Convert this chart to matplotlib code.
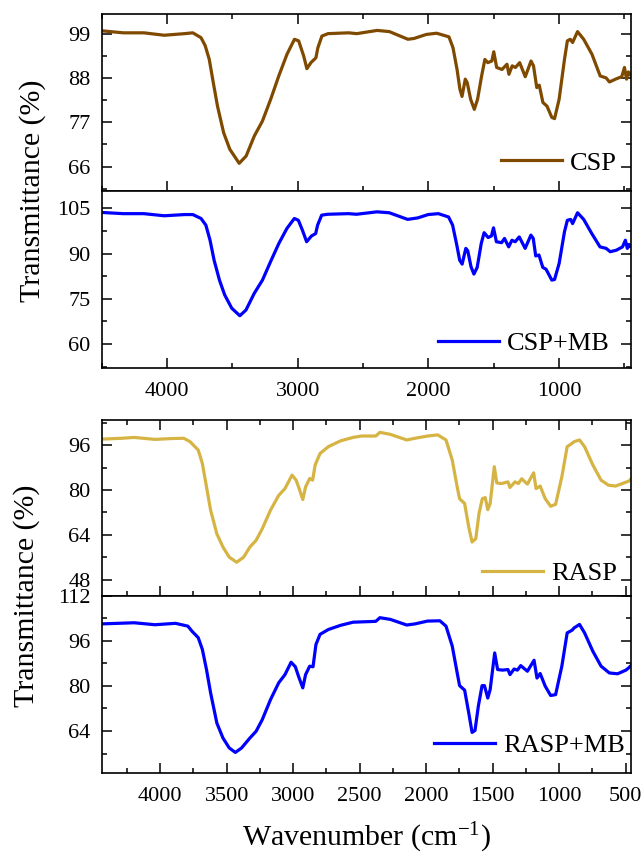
import matplotlib
matplotlib.use("Agg")
import matplotlib.pyplot as plt
from matplotlib.ticker import MultipleLocator

plt.rcParams['font.family'] = ['Liberation Serif', 'DejaVu Serif']
plt.rcParams['mathtext.fontset'] = 'custom'
plt.rcParams['mathtext.rm'] = 'Liberation Serif'
plt.rcParams['mathtext.it'] = 'Liberation Serif:italic'

# ---------------- data ----------------
csp_w = [4500, 4335, 4178, 4022, 3865, 3803, 3740, 3708, 3677, 3646, 3614, 3567, 3520, 3448, 3395,
         3332, 3270, 3207, 3145, 3082, 3025, 2993, 2955, 2930, 2899, 2861, 2846, 2815, 2768, 2611,
         2548, 2392, 2298, 2157, 2110, 2016, 1937, 1843, 1812, 1781, 1759, 1743, 1718, 1703, 1677,
         1649, 1624, 1593, 1568, 1546, 1515, 1500, 1478, 1437, 1399, 1384, 1359, 1334, 1302, 1259,
         1215, 1196, 1171, 1152, 1124, 1093, 1056, 1035, 1000, 959, 937, 915, 897, 859, 812,
         749, 686, 640, 615, 561, 521, 500, 484, 470, 455]
csp_t = [99.7, 99.2, 99.2, 98.6, 99.0, 99.2, 98.0, 96.0, 92.6, 86.8, 81.0, 74.4, 70.3, 66.8, 68.6,
         73.6, 77.3, 82.7, 88.5, 93.9, 97.6, 97.2, 93.5, 90.3, 91.8, 93.0, 95.5, 98.4, 99.0, 99.2,
         99.0, 99.8, 99.5, 97.6, 97.8, 98.8, 99.1, 98.2, 95.5, 90.1, 85.2, 83.4, 87.7, 86.8, 82.7,
         80.2, 82.7, 88.5, 92.6, 91.8, 92.2, 94.5, 90.6, 90.1, 91.4, 88.9, 91.0, 90.6, 91.8, 88.3,
         92.2, 91.0, 85.6, 86.2, 81.9, 81.0, 78.2, 77.9, 82.7, 92.6, 97.2, 97.6, 96.8, 99.5, 97.6,
         93.9, 88.5, 88.0, 87.0, 87.8, 88.3, 90.6, 87.7, 89.5, 88.8]

cspmb_w = [4500, 4335, 4178, 4022, 3865, 3803, 3740, 3703, 3671, 3640, 3599, 3559, 3505, 3443, 3396,
           3333, 3270, 3208, 3145, 3083, 3026, 2995, 2964, 2932, 2895, 2863, 2848, 2817, 2770, 2613,
           2550, 2394, 2300, 2159, 2081, 2002, 1924, 1846, 1815, 1783, 1761, 1742, 1714, 1699, 1674,
           1652, 1627, 1596, 1574, 1543, 1518, 1502, 1480, 1440, 1418, 1386, 1361, 1336, 1305, 1260,
           1216, 1198, 1179, 1154, 1125, 1100, 1056, 1035, 1000, 959, 937, 912, 897, 859, 812,
           750, 687, 640, 609, 562, 515, 493, 478, 465, 455]
cspmb_t = [103.6, 103.2, 103.2, 102.5, 102.9, 102.9, 101.6, 99.4, 94.4, 87.8, 81.2, 76.3, 71.9, 69.4, 71.3,
           76.8, 81.2, 87.3, 93.3, 98.3, 101.6, 101.0, 97.7, 93.9, 95.8, 96.6, 99.4, 102.7, 103.0, 103.2,
           103.0, 103.8, 103.5, 101.3, 101.8, 102.9, 103.2, 102.1, 99.4, 92.8, 87.8, 86.5, 91.7, 90.9, 85.6,
           83.2, 85.4, 93.3, 96.9, 95.3, 95.8, 98.5, 93.9, 93.6, 95.0, 92.2, 94.4, 93.9, 95.5, 91.7,
           96.1, 95.0, 89.2, 89.5, 85.4, 84.8, 81.2, 81.4, 86.7, 97.2, 101.0, 101.3, 99.9, 103.5, 101.3,
           96.6, 92.2, 91.7, 90.6, 91.1, 92.2, 94.4, 91.7, 93.0, 92.4]

rasp_w = [4440, 4289, 4196, 4040, 3916, 3823, 3776, 3714, 3683, 3652, 3621, 3574, 3528, 3481, 3425,
          3373, 3326, 3279, 3233, 3171, 3109, 3062, 3009, 2978, 2953, 2928, 2907, 2876, 2854, 2835,
          2798, 2736, 2643, 2550, 2487, 2379, 2348, 2270, 2146, 2084, 1990, 1913, 1851, 1804, 1767,
          1749, 1711, 1680, 1655, 1627, 1603, 1578, 1556, 1537, 1519, 1488, 1469, 1432, 1385, 1370,
          1332, 1307, 1282, 1239, 1192, 1174, 1143, 1105, 1064, 1027, 980, 940, 909, 887, 847,
          809, 747, 685, 629, 576, 514, 475, 460]
rasp_t = [98.1, 98.4, 98.7, 98.0, 98.3, 98.4, 97.2, 94.2, 89.4, 81.1, 72.8, 64.4, 59.7, 56.1, 54.3,
          56.1, 59.7, 62.1, 66.2, 72.8, 78.1, 80.5, 85.3, 83.5, 80.2, 76.6, 81.1, 84.1, 83.5, 88.9,
          93.0, 95.4, 97.5, 98.7, 99.2, 99.2, 100.5, 99.8, 97.8, 98.4, 99.2, 99.6, 97.8, 90.6, 81.1,
          76.9, 75.2, 66.8, 61.5, 62.7, 71.6, 76.9, 77.3, 73.0, 75.2, 88.3, 82.5, 82.3, 82.9, 80.9,
          82.9, 82.3, 84.0, 82.1, 86.1, 80.5, 81.4, 76.9, 74.2, 74.9, 84.7, 95.4, 96.4, 97.2, 97.8,
          95.4, 88.9, 83.5, 81.7, 81.4, 82.5, 83.2, 83.9]

raspmb_w = [4440, 4196, 4040, 3885, 3792, 3761, 3714, 3683, 3652, 3621, 3574, 3528, 3481, 3435, 3388,
            3326, 3279, 3233, 3171, 3109, 3062, 3016, 2984, 2960, 2928, 2907, 2876, 2851, 2829, 2798,
            2736, 2643, 2550, 2379, 2348, 2270, 2146, 2084, 1990, 1897, 1851, 1804, 1767, 1749, 1711,
            1680, 1655, 1633, 1608, 1580, 1562, 1537, 1519, 1485, 1463, 1426, 1385, 1370, 1339, 1314,
            1289, 1239, 1189, 1167, 1143, 1105, 1064, 1027, 980, 940, 902, 887, 847, 809, 747,
            685, 623, 561, 498, 475, 460]
raspmb_t = [102.0, 102.4, 101.7, 102.2, 101.2, 99.4, 97.1, 92.9, 85.8, 77.5, 66.8, 61.5, 58.0, 56.4, 58.0,
            61.5, 63.9, 68.0, 75.1, 81.1, 84.0, 88.4, 86.8, 83.4, 79.3, 84.0, 87.0, 86.8, 94.7, 98.3,
            100.0, 101.5, 102.6, 102.9, 104.2, 103.6, 101.6, 102.0, 103.0, 103.1, 101.2, 94.1, 84.6, 80.1, 78.5,
            70.4, 63.5, 64.2, 72.8, 80.1, 80.1, 75.7, 78.7, 91.7, 85.8, 85.6, 85.8, 84.0, 86.0, 85.6,
            87.2, 85.2, 89.1, 82.8, 84.4, 79.9, 76.6, 76.9, 87.0, 98.8, 99.8, 100.6, 101.8, 98.8, 92.3,
            87.0, 84.6, 84.3, 85.6, 86.5, 87.2]

labels = ["CSP", "CSP+MB", "RASP", "RASP+MB"]
colors = ["#7f4a00", "#0000ff", "#d6b444", "#0000ff"]
ylims = [(60, 103.8), (52, 110.8), (42.4, 104.9), (49, 112)]
ymaj = [11, 15, 16, 16]
xlims_top = (4500, 450)
xlims_bot = (4440, 460)

# ---------------- layout ----------------
W, H = 644, 857
fig = plt.figure(figsize=(W / 100, H / 100), dpi=100)

def fr(top_px, bot_px):
    return (H - bot_px) / H, (bot_px - top_px) / H

left = 101.7 / W
width = (631 - 101.7) / W
boxes = [fr(14.3, 190.7), fr(190.7, 368.3), fr(420, 595.7), fr(595.7, 773.3)]
axes = []
for b, h in boxes:
    axes.append(fig.add_axes([left, b, width, h]))

data = [(csp_w, csp_t), (cspmb_w, cspmb_t), (rasp_w, rasp_t), (raspmb_w, raspmb_t)]
leg_anchor = [(0.9735, 0.158), (0.960, 0.142), (0.9735, 0.125), (0.988, 0.158)]

for i, ax in enumerate(axes):
    w, t = data[i]
    ax.plot(w, t, color=colors[i], lw=2.3, label=labels[i], solid_joinstyle='round')
    ax.set_xlim(*(xlims_top if i < 2 else xlims_bot))
    ax.set_ylim(*ylims[i])
    ax.yaxis.set_major_locator(MultipleLocator(ymaj[i]))
    ax.yaxis.set_minor_locator(MultipleLocator(ymaj[i] / 2))
    if i < 2:
        ax.xaxis.set_major_locator(MultipleLocator(1000))
        ax.xaxis.set_minor_locator(MultipleLocator(500))
    else:
        ax.xaxis.set_major_locator(MultipleLocator(500))
        ax.xaxis.set_minor_locator(MultipleLocator(250))
    upper = (i % 2 == 0)
    ax.tick_params(which='both', direction='in', top=upper, bottom=True, left=True, right=True,
                   labelbottom=not upper, labelsize=16, width=1.1)
    ax.tick_params(axis='y', which='both', pad=8)
    ax.tick_params(axis='x', which='both', pad=10)
    ax.tick_params(which='major', length=7)
    ax.tick_params(which='minor', length=3.6)
    for s in ax.spines.values():
        s.set_linewidth(1.2)
    ax.legend(loc='center right', bbox_to_anchor=leg_anchor[i], frameon=False, fontsize=19,
              handlelength=2.3, handletextpad=0.3, borderpad=0, borderaxespad=0)

fig.text(33 / W, (H - 191) / H, "Transmittance (%)", rotation=90, ha='center', va='center', fontsize=21.5)
fig.text(27 / W, (H - 596) / H, "Transmittance (%)", rotation=90, ha='center', va='center', fontsize=21.5)
fig.text((101.7 + 631) / 2 / W, (H - 838) / H, "Wavenumber (cm$^{-1}$)", ha='center', va='center',
         fontsize=21.5)

fig.savefig("out.png", dpi=100)
